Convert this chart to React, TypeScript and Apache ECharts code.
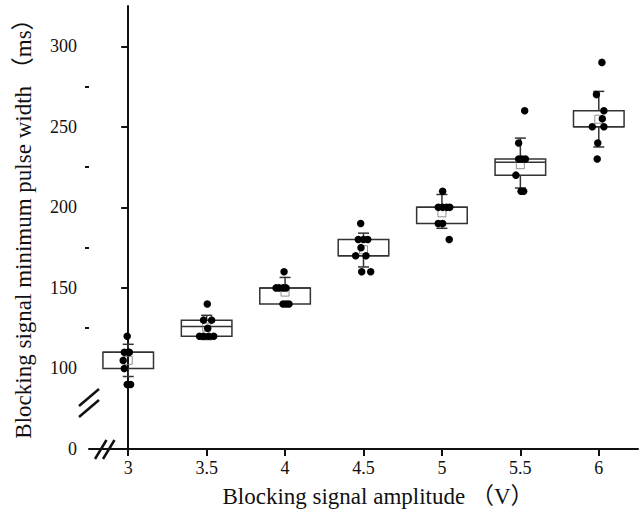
import React, { useEffect, useRef } from 'react';
import * as echarts from 'echarts';

const categories = ['3', '3.5', '4', '4.5', '5', '5.5', '6'];
const q1 = [100, 120, 140, 170, 190, 220, 250];
const median = [110, 126, 150, 170, 200, 228, 250];
const q3 = [110, 130, 150, 180, 200, 230, 260];
const whiskerLow = [95, 118, 140, 163, 187, 212, 237.5];
const whiskerHigh = [115, 133, 156.5, 184, 208, 243, 272];
const means = [105, 125.6, 147.4, 173.7, 196.6, 226.5, 254.7];

const pointsByGroup = [
  [120, 110, 110, 110, 105, 100, 90, 90],
  [140, 130, 130, 125, 120, 120, 120, 120],
  [160, 150, 150, 150, 150, 140, 140, 140],
  [190, 180, 180, 180, 175, 170, 170, 160, 160],
  [210, 200, 200, 200, 200, 190, 190, 180],
  [260, 240, 230, 230, 230, 220, 210, 210],
  [290, 270, 260, 255, 250, 250, 240, 230],
];
const jitterByGroup = [
  [-0.013, -0.05, 0, 0.015, -0.064, -0.05, -0.013, 0.03],
  [0.008, -0.04, 0.064, 0.013, -0.09, -0.04, 0.025, 0.09],
  [-0.013, -0.115, -0.077, -0.026, 0.013, -0.026, 0.013, 0.05],
  [-0.036, -0.066, 0, 0.054, -0.032, -0.1, 0.032, -0.023, 0.092],
  [0.009, -0.047, 0.009, 0.06, 0.1, -0.047, 0.009, 0.093],
  [0.055, -0.022, -0.022, 0.022, 0.064, -0.057, 0.009, 0.042],
  [0.04, -0.03, 0.065, 0.045, -0.083, 0.065, -0.013, -0.02],
];

const yTickValues = [0, 100, 150, 200, 250, 300];
const yMinorTickValues = [125, 175, 225, 275];
const yMaxReal = 325;

const xTitle = 'Blocking signal amplitude （V）';
const yTitle = 'Blocking signal minimum pulse width （ms）';

// broken axis: the span 0..60 is squeezed, everything above is linear
const tf = (v: number) => (v >= 60 ? v - 50 : v / 6);
const inv = (t: number) => (t >= 10 ? t + 50 : t * 6);

const FONT = 'Liberation Serif, Times New Roman, Noto Sans CJK SC, serif';
const INK = '#111';

export default function App() {
  const ref = useRef<HTMLDivElement>(null);
  useEffect(() => {
    document.body.style.margin = '0';
    if (!ref.current) return;
    const chart = echarts.init(ref.current, null, { renderer: 'svg' });

    const boxData = categories.map((_, i) => [
      i,
      tf(whiskerLow[i]),
      tf(q1[i]),
      tf(median[i]),
      tf(q3[i]),
      tf(whiskerHigh[i]),
    ]);
    const meanData = categories.map((_, i) => [i, tf(means[i])]);
    const pointData: number[][] = [];
    pointsByGroup.forEach((vals, i) => {
      vals.forEach((v, j) => pointData.push([i + jitterByGroup[i][j], tf(v)]));
    });

    const lineStyle = { stroke: '#333', lineWidth: 1.5 };

    chart.setOption({
      animation: false,
      grid: { left: 89, right: 3, top: 6, bottom: 64, containLabel: false },
      xAxis: [
        {
          type: 'category',
          data: categories,
          boundaryGap: true,
          axisLine: { show: true, lineStyle: { color: INK, width: 2 } },
          axisTick: { show: true, alignWithLabel: true, length: 7, lineStyle: { color: INK, width: 2 } },
          axisLabel: { fontSize: 18, fontFamily: FONT, color: INK, margin: 10 },
          splitLine: { show: false },
        },
        { type: 'value', min: -0.5, max: 6.5, show: false },
      ],
      yAxis: [
        {
          type: 'value',
          min: 0,
          max: tf(yMaxReal),
          interval: 25,
          axisLine: { show: true, lineStyle: { color: INK, width: 2 } },
          axisTick: { show: true, length: 7, lineStyle: { color: INK, width: 2 }, customValues: yTickValues.map(tf) },
          axisLabel: {
            customValues: yTickValues.map(tf),
            formatter: (t: number) => String(Math.round(inv(t))),
            fontSize: 18,
            fontFamily: FONT,
            color: INK,
            margin: 12,
          },
          splitLine: { show: false },
        },
        {
          type: 'value',
          min: 0,
          max: tf(yMaxReal),
          interval: 25,
          position: 'left',
          axisLine: { show: false },
          axisTick: { show: true, length: 4, lineStyle: { color: INK, width: 2 }, customValues: yMinorTickValues.map(tf) },
          axisLabel: { show: false },
          splitLine: { show: false },
        },
      ],
      series: [
        {
          type: 'custom',
          xAxisIndex: 1,
          yAxisIndex: 0,
          silent: true,
          data: boxData,
          renderItem: (params: any, api: any) => {
            const i = api.value(0);
            const w = api.size([1, 0])[0] * 0.645;
            const cap = 5.5;
            const [cx, yLow] = api.coord([i, api.value(1)]);
            const yQ1 = api.coord([i, api.value(2)])[1];
            const yMed = api.coord([i, api.value(3)])[1];
            const yQ3 = api.coord([i, api.value(4)])[1];
            const yHigh = api.coord([i, api.value(5)])[1];
            const children: any[] = [
              { type: 'line', shape: { x1: cx, y1: yQ3, x2: cx, y2: yHigh }, style: lineStyle },
              { type: 'line', shape: { x1: cx - cap, y1: yHigh, x2: cx + cap, y2: yHigh }, style: lineStyle },
              { type: 'line', shape: { x1: cx, y1: yQ1, x2: cx, y2: yLow }, style: lineStyle },
              { type: 'line', shape: { x1: cx - cap, y1: yLow, x2: cx + cap, y2: yLow }, style: lineStyle },
              {
                type: 'rect',
                shape: { x: cx - w / 2, y: yQ3, width: w, height: yQ1 - yQ3 },
                style: { fill: 'none', stroke: '#333', lineWidth: 1.5 },
              },
              { type: 'line', shape: { x1: cx - w / 2, y1: yMed, x2: cx + w / 2, y2: yMed }, style: lineStyle },
            ];
            return { type: 'group', children };
          },
        },
        {
          type: 'scatter',
          xAxisIndex: 1,
          yAxisIndex: 0,
          silent: true,
          symbol: 'rect',
          symbolSize: 8,
          itemStyle: { color: 'rgba(255,255,255,0)', borderColor: '#777', borderWidth: 1 },
          data: meanData,
        },
        {
          type: 'scatter',
          xAxisIndex: 1,
          yAxisIndex: 0,
          silent: true,
          symbol: 'circle',
          symbolSize: 7.5,
          itemStyle: { color: '#000', opacity: 1 },
          data: pointData,
        },
      ],
      graphic: [
        {
          type: 'text',
          x: 23,
          y: 223,
          rotation: Math.PI / 2,
          style: {
            text: yTitle,
            fontSize: 23,
            fontFamily: FONT,
            fill: INK,
            align: 'center',
            verticalAlign: 'middle',
          },
        },
        {
          type: 'text',
          x: 378,
          y: 496,
          style: {
            text: xTitle,
            fontSize: 23,
            fontFamily: FONT,
            fill: INK,
            align: 'center',
            verticalAlign: 'middle',
          },
        },
        { type: 'line', shape: { x1: 79, y1: 406, x2: 99, y2: 389 }, style: { stroke: INK, lineWidth: 2.5 } },
        { type: 'line', shape: { x1: 79, y1: 417, x2: 99, y2: 400 }, style: { stroke: INK, lineWidth: 2.5 } },
        { type: 'line', shape: { x1: 95, y1: 459, x2: 106.5, y2: 440 }, style: { stroke: INK, lineWidth: 2.5 } },
        { type: 'line', shape: { x1: 103, y1: 459, x2: 114.5, y2: 440 }, style: { stroke: INK, lineWidth: 2.5 } },
      ],
    });
    return () => chart.dispose();
  }, []);
  return <div ref={ref} style={{ width: 641, height: 513 }} />;
}
